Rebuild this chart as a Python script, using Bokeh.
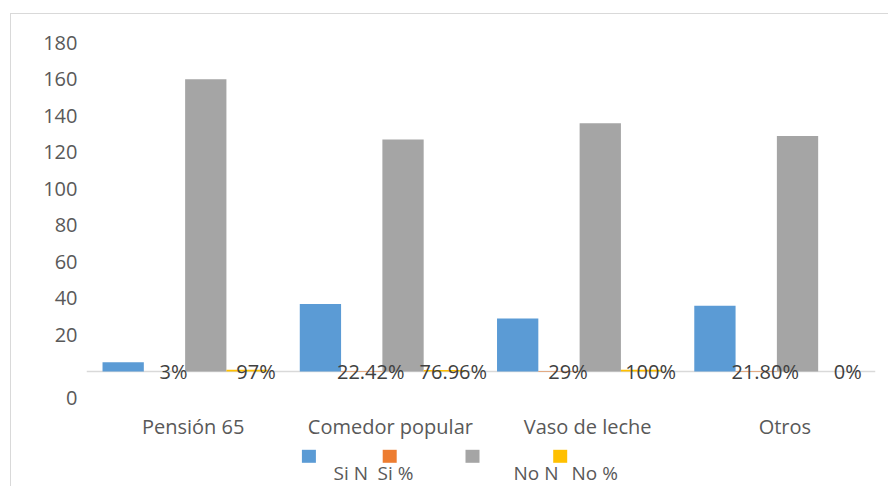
from bokeh.plotting import figure
from bokeh.models import FactorRange, Range1d, FixedTicker, Span, ColumnDataSource
from bokeh.transform import dodge
from bokeh.core.properties import value
from bokeh.embed import file_html
from bokeh.resources import INLINE

# ---------------- data ----------------
categories = ["Pensión 65", "Comedor popular", "Vaso de leche", "Otros"]
series_names = ["Si N", "Si %", "No N", "No %"]
si_n = [5, 37, 29, 36]
si_pct = [0.03, 0.2242, 0.29, 0.218]
no_n = [160, 127, 136, 129]
no_pct = [0.97, 0.7696, 1.00, 0.0]
si_pct_labels = ["3%", "22.42%", "29%", "21.80%"]
no_pct_labels = ["97%", "76.96%", "100%", "0%"]
y_ticks = [20, 40, 60, 80, 100, 120, 140, 160, 180]
zero_label = "0"

# ---------------- styles ----------------
colors = ["#5B9BD5", "#ED7D31", "#A5A5A5", "#FFC000"]
FONT = "Open Sans"
AXIS_COLOR = "#595959"
LABEL_COLOR = "#404040"

# figure host box placed at (10, 13) with a 1px border -> canvas origin (11, 14)
OX, OY = 11, 14
W, H = 878, 473
FRAME_L, FRAME_R, FRAME_T, FRAME_B = 86, 875, 20, OY + H   # absolute page px
BASE_PX = 371            # page y of the value 0
PX_PER_UNIT = 1.826
X_PX_PER_CAT = (FRAME_R - FRAME_L) / len(categories)


def px_x(px):
    return (px - FRAME_L) / X_PX_PER_CAT


def px_y(py):
    return (BASE_PX - py) / PX_PER_UNIT


src = ColumnDataSource(dict(cat=categories, si_n=si_n, si_pct=si_pct, no_n=no_n,
                            no_pct=no_pct, si_lab=si_pct_labels, no_lab=no_pct_labels))

p = figure(width=W, height=H, output_backend="svg", toolbar_location=None,
           x_range=FactorRange(*categories),
           y_range=Range1d(px_y(FRAME_B), px_y(FRAME_T)),
           x_axis_location=None,
           min_border_left=FRAME_L - OX, min_border_right=OX + W - FRAME_R,
           min_border_top=FRAME_T - OY, min_border_bottom=0)
p.styles = {"margin-left": "10px", "margin-top": "13px",
            "border-top": "1px solid #D9D9D9", "border-left": "1px solid #D9D9D9"}
p.outline_line_color = None
p.xgrid.visible = False
p.ygrid.visible = False
p.background_fill_color = "white"
p.border_fill_color = "white"

# y axis
zero_pos = round(px_y(397), 2)
p.yaxis.ticker = FixedTicker(ticks=[zero_pos] + y_ticks)
p.yaxis.major_label_overrides = {zero_pos: zero_label}
p.yaxis.axis_line_color = None
p.yaxis.major_tick_line_color = None
p.yaxis.minor_tick_line_color = None
p.yaxis.major_label_standoff = 3
p.yaxis.major_label_text_font = FONT
p.yaxis.major_label_text_font_size = "20px"
p.yaxis.major_label_text_color = AXIS_COLOR

# baseline (category axis line)
p.add_layout(Span(location=0, dimension="width", line_color="#D9D9D9", line_width=1.5, level="underlay"))

# bars
bar_w = 41.3 / X_PX_PER_CAT
offsets = [-1.5 * bar_w, -0.5 * bar_w, 0.5 * bar_w, 1.5 * bar_w]
fields = ["si_n", "si_pct", "no_n", "no_pct"]
for f, off, c in zip(fields, offsets, colors):
    p.vbar(x=dodge("cat", off, range=p.x_range), top=f, bottom=0, width=bar_w,
           source=src, fill_color=c, line_color=None)

# data labels on the percentage bars
for lab, off in [("si_lab", offsets[1]), ("no_lab", offsets[3])]:
    p.text(x=dodge("cat", off, range=p.x_range), y=0, text=lab, source=src,
           text_font=value(FONT), text_font_size="20px", text_color=LABEL_COLOR,
           text_align="center", text_baseline="middle", x_offset=9)

# category labels
p.text(x="cat", y=px_y(426), text="cat", source=src,
       text_font=value(FONT), text_font_size="20px", text_color=AXIS_COLOR,
       text_align="center", text_baseline="middle", x_offset=8)

# legend (drawn manually, as laid out in the original)
sq_px = [308.4, 389.2, 472.0, 559.7]
lab_px = [333, 377, 513, 571]
p.rect(x=[px_x(v) for v in sq_px], y=[px_y(455.8)] * 4, width=14, height=13,
       width_units="screen", height_units="screen", fill_color=colors, line_color=None)
p.text(x=[px_x(v) for v in lab_px], y=[px_y(472)] * 4, text=series_names,
       text_font=value(FONT), text_font_size="19px", text_color=AXIS_COLOR,
       text_align="left", text_baseline="middle")

open("out.html", "w").write(file_html(p, INLINE))
